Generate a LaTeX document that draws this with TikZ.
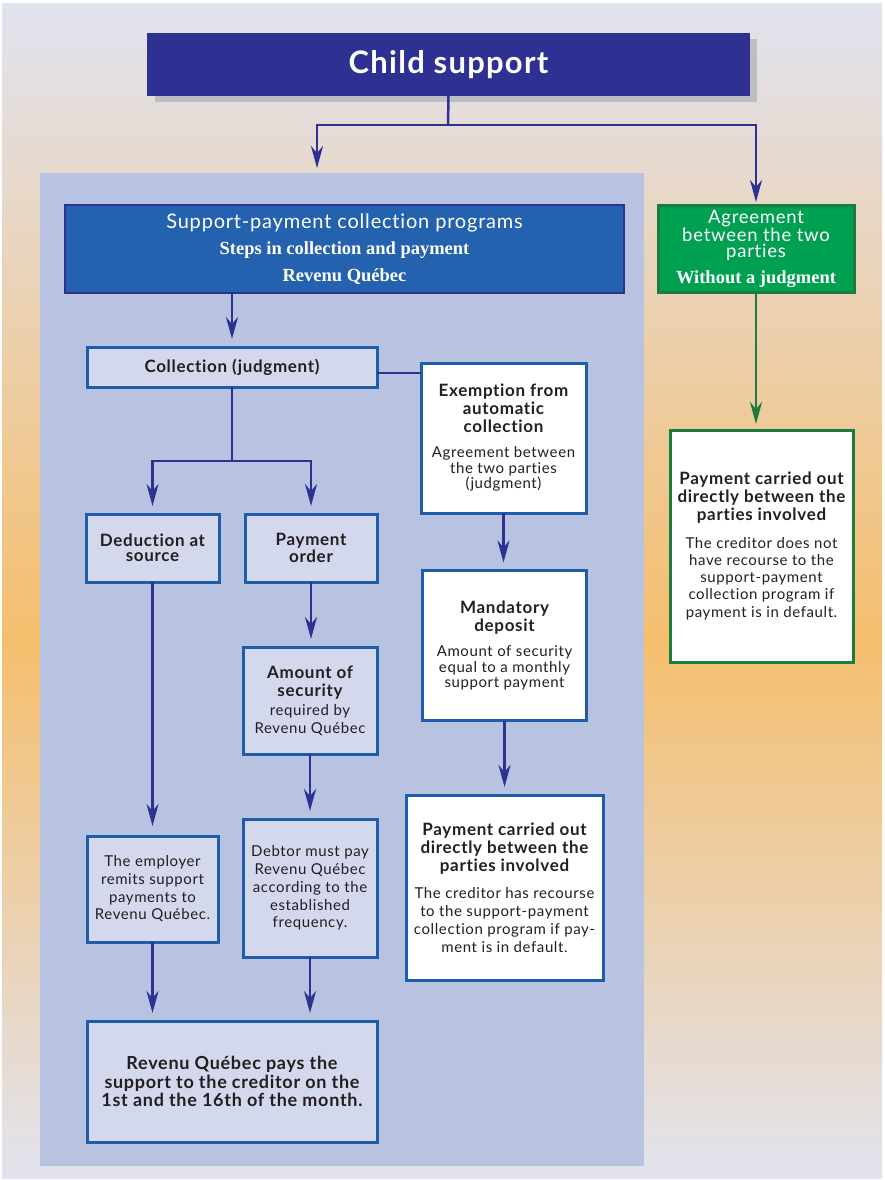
\documentclass[tikz,border=0pt]{standalone}
\usepackage{fontspec}
\setmainfont{Lato}[LetterSpace=4,Ligatures=NoCommon]
\newfontfamily\serifbf{Liberation Serif}
\usetikzlibrary{arrows.meta}
\definecolor{bgtop}{HTML}{E1E3F0}
\definecolor{bgmid}{HTML}{F5BE6D}
\definecolor{bgbot}{HTML}{E2E3EE}
\definecolor{panelc}{HTML}{B8C3E2}
\definecolor{navy}{HTML}{2E3192}
\definecolor{shadowc}{HTML}{BDBEC1}
\definecolor{spblue}{HTML}{2462B0}
\definecolor{bordblue}{HTML}{1F5DAB}
\definecolor{lightbox}{HTML}{D3D8EC}
\definecolor{greenf}{HTML}{00A051}
\definecolor{greenb}{HTML}{1C7B3F}
\definecolor{textc}{HTML}{231F20}
\newcommand\boxhead[1]{{\fontsize{17}{18}\selectfont\bfseries #1}}
\begin{document}
\begin{tikzpicture}[x=1pt,y=-1pt,
  base/.style={inner sep=0pt,outer sep=0pt,align=center,text=textc},
  lbox/.style={base,draw=bordblue,line width=3pt,fill=lightbox},
  wbox/.style={base,draw=bordblue,line width=3pt,fill=white},
  gbox/.style={base,draw=greenb,line width=3pt,fill=white},
  conn/.style={draw=navy,line width=2.5pt},
  arr/.style={conn,-{Stealth[length=22pt,width=12pt,inset=7pt]},shorten >=8pt},
  garr/.style={draw=greenb,line width=2.5pt,-{Stealth[length=22pt,width=12pt,inset=7pt]},shorten >=8pt},
  body/.style={font=\fontsize{15}{#1}\selectfont}
]
\useasboundingbox (0,0) rectangle (885,1180);
\fill[white] (0,0) rectangle (885,1180);
\shade[top color=bgtop,bottom color=bgmid] (2,4) rectangle (882,640);
\shade[top color=bgmid,bottom color=bgbot] (2,639) rectangle (882,1178);
\node[inner sep=0pt,outer sep=0pt,fill=panelc,minimum width=604pt,minimum height=993pt] (panel) at (342,669.5) {};
% title
\fill[shadowc] (155,39) rectangle (757,102);
\node[base,fill=navy,text=white,minimum width=603pt,minimum height=63pt,font=\fontsize{31}{36}\selectfont\bfseries] (cs) at (448.5,64.5) {Child support};
% support-payment programs
\node[base,draw=navy,line width=2.5pt,fill=spblue,text=white,minimum width=559pt,minimum height=88pt,font=\fontsize{18.5}{26.5}\selectfont] (sp) at (344.5,249)
 {{\fontsize{20}{22}\selectfont Support-payment collection programs}\\{\serifbf\bfseries Steps in collection and payment}\\{\serifbf\bfseries Revenu Québec}};
% agreement (green)
\node[base,draw=greenb,line width=3pt,fill=greenf,text=white,minimum width=196pt,minimum height=87pt,font=\fontsize{18.5}{16.5}\selectfont] (agr) at (756,248.5)
 {Agreement\\between the two\\parties\\[9pt]{\serifbf\bfseries\fontsize{18.5}{18}\selectfont Without a judgment}};
\node[gbox,minimum width=183pt,minimum height=232pt,body=17.3] (pgr) at (761.5,546)
 {\boxhead{Payment carried out}\\[0.7pt]\boxhead{directly between the}\\[0.7pt]\boxhead{parties involved}\\[10pt]The creditor does not\\have recourse to the\\support-payment\\collection program if\\payment is in default.};
% collection
\node[lbox,minimum width=290pt,minimum height=40pt,font=\fontsize{17}{18}\selectfont\bfseries] (coll) at (232,367) {Collection (judgment)};
\node[wbox,minimum width=165pt,minimum height=150pt,body=15.5] (exm) at (503.5,438)
 {\boxhead{Exemption from}\\[2.5pt]\boxhead{automatic}\\[2.5pt]\boxhead{collection}\\[9.5pt]Agreement between\\the two parties\\(judgment)};
\node[lbox,minimum width=133pt,minimum height=68pt,font=\fontsize{17}{15}\selectfont\bfseries] (ded) at (152.5,548) {Deduction at\\source};
\node[lbox,minimum width=132pt,minimum height=68pt,font=\fontsize{17}{15}\selectfont\bfseries] (po) at (311,548) {Payment\\order};
\node[wbox,minimum width=164pt,minimum height=150pt,body=15.5] (mand) at (504.5,645.5)
 {\boxhead{Mandatory}\\[2.5pt]\boxhead{deposit}\\[9.5pt]Amount of security\\equal to a monthly\\support payment};
\node[lbox,minimum width=134pt,minimum height=107pt,body=18] (amt) at (310,700.5)
 {\boxhead{Amount of}\\\boxhead{security}\\[1pt]required by\\Revenu Québec};
\node[wbox,minimum width=197pt,minimum height=185pt,body=18] (pbl) at (504.5,887.5)
 {\boxhead{Payment carried out}\\\boxhead{directly between the}\\\boxhead{parties involved}\\[9pt]The creditor has recourse\\to the support-payment\\collection program if pay-\\ment is in default.};
\node[lbox,minimum width=131pt,minimum height=106pt,body=17.7] (emp) at (152.5,889)
 {The employer\\remits support\\payments to\\Revenu Québec.};
\node[lbox,minimum width=134pt,minimum height=138pt,body=17.8] (debt) at (310,888)
 {Debtor must pay\\Revenu Québec\\according to the\\established\\frequency.};
\node[lbox,minimum width=290pt,minimum height=121pt,font=\fontsize{18}{18.5}\selectfont\bfseries] (fin) at (232,1081.5)
 {Revenu Québec pays the\\support to the creditor on the\\1st and the 16th of the month.};
% connectors
\coordinate (split) at (448,125);
\coordinate (pTop) at (317,176);
\draw[conn] (cs.south) -- (split);
\draw[arr] (split) -| (pTop);
\draw[arr,shorten >=3pt] (split) -| (agr.north);
\draw[garr,shorten >=6pt] (agr.south) -- (agr.south |- pgr.north);
\draw[arr] (sp.south -| coll.north) -- (coll.north);
\draw[conn] ([yshift=-6pt]coll.east) -- ([yshift=-6pt]coll.east -| exm.west);
\coordinate (split2) at (232,461);
\draw[conn] (coll.south) -- (split2);
\draw[arr] (split2) -| (ded.north);
\draw[arr] (split2) -| (po.north);
\draw[arr] (exm.south) -- (exm.south |- mand.north);
\draw[arr] (mand.south) -- (mand.south |- pbl.north);
\draw[arr,shorten >=10pt] (ded.south) -- (ded.south |- emp.north);
\draw[arr] (po.south) -- (po.south |- amt.north);
\draw[arr] (amt.south) -- (debt.north);
\draw[arr] (emp.south) -- (emp.south |- fin.north);
\draw[arr] (debt.south) -- (debt.south |- fin.north);
\end{tikzpicture}
\end{document}
